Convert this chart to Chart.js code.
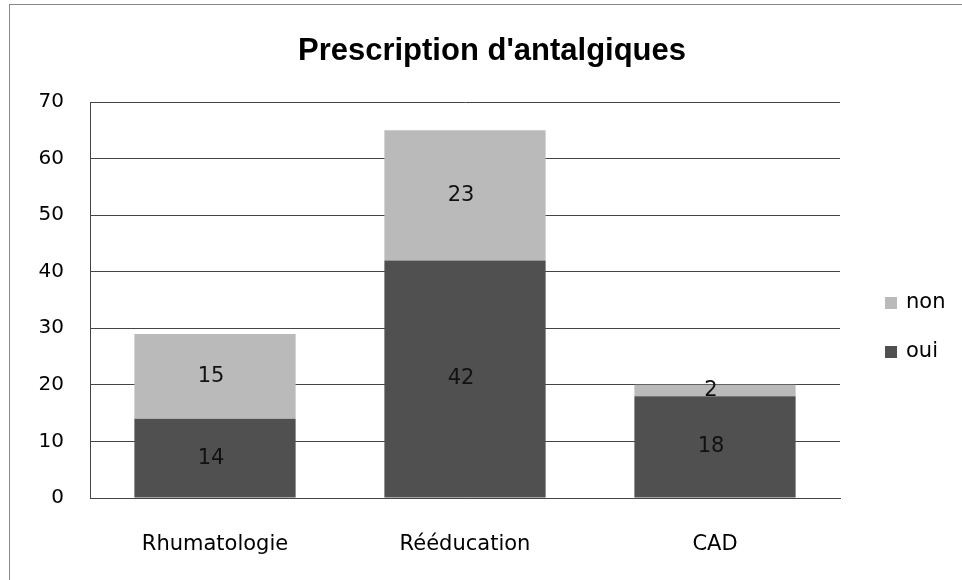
<!DOCTYPE html>
<html>
<head>
<meta charset="utf-8">
<script src="https://cdn.jsdelivr.net/npm/chart.js@4/dist/chart.umd.min.js"></script>
<style>
  html, body { margin: 0; padding: 0; background: #fff; }
  #wrap { position: relative; width: 962px; height: 580px; }
  #frame { position: absolute; left: 9px; top: 4px; width: 980px; height: 600px; border: 1px solid #888; box-sizing: border-box; pointer-events: none; }
  canvas { position: absolute; left: 0; top: 0; }
</style>
</head>
<body>
<div id="wrap">
  <canvas id="c" width="962" height="580"></canvas>
  <div id="frame"></div>
</div>
<script>
const chartTitle = "Prescription d'antalgiques";
const categories = ["Rhumatologie", "Rééducation", "CAD"];
const ouiValues = [14, 42, 18];
const nonValues = [15, 23, 2];
const yTicks = [0, 10, 20, 30, 40, 50, 60, 70];

const FONT = "'DejaVu Sans', sans-serif";

const extras = {
  id: 'extras',
  afterDatasetsDraw(chart) {
    const ctx = chart.ctx;
    ctx.save();
    // data labels centered in each segment
    ctx.font = "21px " + FONT;
    ctx.fillStyle = "#111";
    ctx.textAlign = "center";
    ctx.textBaseline = "middle";
    chart.data.datasets.forEach((ds, di) => {
      const meta = chart.getDatasetMeta(di);
      meta.data.forEach((bar, i) => {
        const p = bar.getProps(['x', 'y', 'base'], true);
        ctx.fillText(String(ds.data[i]), p.x - 4, (p.y + p.base) / 2);
      });
    });
    // title
    ctx.font = "bold 31px 'Liberation Sans', Arial, sans-serif";
    ctx.fillStyle = "#000";
    ctx.fillText(chartTitle, 492, 51);
    // legend (non above oui)
    const items = [chart.data.datasets[1], chart.data.datasets[0]];
    const ys = [303, 352];
    ctx.font = "21px " + FONT;
    ctx.textAlign = "left";
    items.forEach((ds, k) => {
      ctx.fillStyle = ds.backgroundColor;
      ctx.fillRect(885, ys[k] - 6, 12, 12);
      ctx.fillStyle = "#000";
      ctx.fillText(ds.label, 906, ys[k]);
    });
    ctx.restore();
  }
};

new Chart(document.getElementById('c'), {
  type: 'bar',
  data: {
    labels: categories,
    datasets: [
      { label: 'oui', data: ouiValues, backgroundColor: '#505050', barPercentage: 0.645, categoryPercentage: 1 },
      { label: 'non', data: nonValues, backgroundColor: '#bababa', barPercentage: 0.645, categoryPercentage: 1 }
    ]
  },
  options: {
    responsive: false,
    animation: false,
    layout: { padding: { top: 102, right: 122, left: 0, bottom: 0 } },
    plugins: { legend: { display: false }, title: { display: false }, tooltip: { enabled: false } },
    scales: {
      x: {
        stacked: true,
        grid: { display: false, drawTicks: false },
        border: { display: true, color: '#444', width: 1 },
        ticks: { color: '#000', font: { family: FONT, size: 21 }, padding: 34 },
        afterFit(scale) { scale.height = 82; }
      },
      y: {
        stacked: true,
        min: 0, max: 70,
        afterBuildTicks(scale) { scale.ticks = yTicks.map(v => ({ value: v })); },
        grid: { color: '#444', lineWidth: 1, drawTicks: false },
        border: { display: true, color: '#444', width: 1 },
        ticks: { color: '#000', font: { family: FONT, size: 20 }, padding: 26 },
        afterFit(scale) { scale.width = 90; }
      }
    }
  },
  plugins: [extras]
});
</script>
</body>
</html>
